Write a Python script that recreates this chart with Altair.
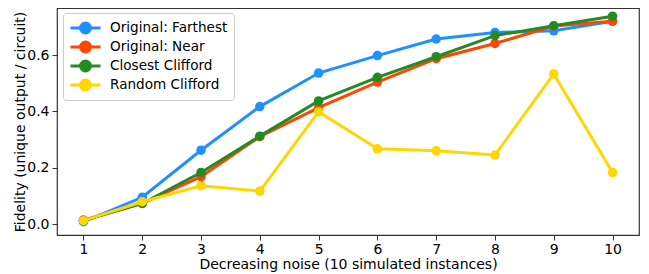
import altair as alt
import pandas as pd

x_vals = [1, 2, 3, 4, 5, 6, 7, 8, 9, 10]
series_names = ["Original: Farthest", "Original: Near", "Closest Clifford", "Random Clifford"]
farthest = [0.008, 0.095, 0.262, 0.417, 0.536, 0.598, 0.657, 0.680, 0.686, 0.720]
near = [0.014, 0.073, 0.168, 0.310, 0.413, 0.504, 0.587, 0.641, 0.703, 0.720]
closest = [0.012, 0.073, 0.183, 0.312, 0.437, 0.521, 0.594, 0.669, 0.704, 0.738]
random_c = [0.012, 0.079, 0.136, 0.117, 0.399, 0.267, 0.260, 0.245, 0.533, 0.183]
colors = ["#1E90FF", "#FF4500", "#228B22", "#FFD700"]
y_ticks = [0.0, 0.2, 0.4, 0.6]

rows = []
for name, vals in zip(series_names, [farthest, near, closest, random_c]):
    for xv, yv in zip(x_vals, vals):
        rows.append({"x": xv, "y": yv, "series": name})
df = pd.DataFrame(rows)

FONT = "DejaVu Sans"
color_scale = alt.Scale(domain=series_names, range=colors)
xs = alt.Scale(domain=[0.55, 10.45], nice=False, zero=False)
ys = alt.Scale(domain=[-0.039, 0.767], nice=False, zero=False)

sym_path = "M-1,0L1,0M-0.33,0A0.33,0.33 0 1,1 0.33,0A0.33,0.33 0 1,1 -0.33,0Z"

legend = alt.Legend(
    title=None, orient="none", legendX=6, legendY=5,
    symbolType=sym_path, symbolSize=900, symbolStrokeWidth=3, symbolOpacity=1,
    clipHeight=18, rowPadding=1, labelFontSize=13.6, labelFont=FONT,
    labelColor="black", labelOffset=8,
    strokeColor="#cccccc", fillColor="rgba(255,255,255,0.8)",
    cornerRadius=3, padding=6,
)

x_enc = alt.X("x:Q", scale=xs, axis=alt.Axis(
    values=x_vals, format="d", title="Decreasing noise (10 simulated instances)"))
y_enc = alt.Y("y:Q", scale=ys, axis=alt.Axis(
    values=y_ticks, format=".1f", title="Fidelity (unique output / circuit)"))
c_enc = alt.Color("series:N", scale=color_scale, legend=legend)

layers = []
for name in series_names:
    sub = df[df["series"] == name]
    base = alt.Chart(sub).encode(x=x_enc, y=y_enc, color=c_enc)
    layers.append(base.mark_line(strokeWidth=3))
    layers.append(base.mark_point(filled=True, size=90, opacity=1, shape="circle"))

chart = alt.layer(*layers).properties(
    width=582, height=227,
    autosize=alt.AutoSizeParams(type="none"),
    padding={"left": 49, "top": 0, "right": 2, "bottom": 39},
).configure_view(
    stroke="#333333", strokeWidth=1.2
).configure_axis(
    grid=False, domain=False, ticks=True, tickColor="#333333", tickSize=5,
    labelFont=FONT, labelFontSize=14, labelColor="black",
    titleFont=FONT, titleFontSize=14, titleColor="black", titleFontWeight="normal",
).configure_axisX(titlePadding=1, labelPadding=2).configure_axisY(titlePadding=-1, labelPadding=3)

chart.save("out.html", embed_options={"renderer": "svg", "actions": False})
